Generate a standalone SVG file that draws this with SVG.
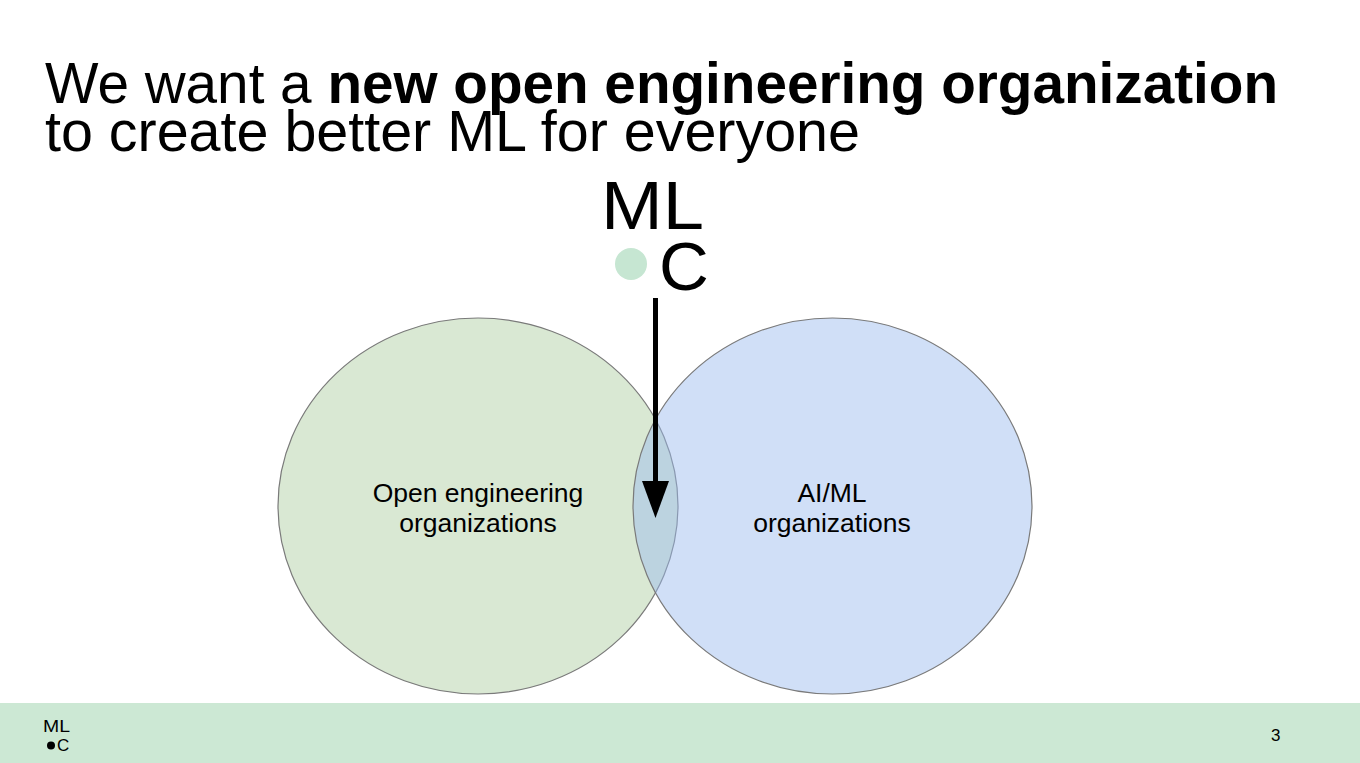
<svg xmlns="http://www.w3.org/2000/svg" width="1360" height="763" viewBox="0 0 1360 763">
<defs>
<style>
text { font-family: "Liberation Sans", Arial, Helvetica, sans-serif; fill: #000; }
.title { font-size: 57px; }
.lbl { font-size: 26.5px; text-anchor: middle; }
.venn { stroke: #7a7a7a; stroke-width: 1.2; }
</style>
<marker id="ah" markerWidth="37" markerHeight="27" refX="0" refY="13.5" orient="auto" markerUnits="userSpaceOnUse" viewBox="0 0 37 27"><path d="M0,0 L37,13.5 L0,27 Z" fill="#000"/></marker>
</defs>
<rect width="1360" height="763" fill="#ffffff"/>
<g id="title">
<text class="title" x="45" y="103" textLength="1233" lengthAdjust="spacingAndGlyphs">We want a <tspan font-weight="bold">new open engineering organization</tspan></text>
<text class="title" x="45" y="151" textLength="815" lengthAdjust="spacingAndGlyphs">to create better ML for everyone</text>
</g>
<g id="mlc-logo">
<text x="601" y="229" font-size="68" textLength="103" lengthAdjust="spacingAndGlyphs">ML</text>
<circle cx="631" cy="264" r="16" fill="#c6e6d2"/>
<text x="659" y="290" font-size="69">C</text>
</g>
<g id="open-eng">
<ellipse class="venn" cx="478" cy="506" rx="200" ry="188" fill="#d9e8d3"/>
<text class="lbl" x="478" y="502">Open engineering</text>
<text class="lbl" x="478" y="532">organizations</text>
</g>
<g id="aiml">
<ellipse class="venn" cx="832.5" cy="506" rx="199.5" ry="188" fill="#9cbbee" fill-opacity="0.47"/>
<text class="lbl" x="832" y="502">AI/ML</text>
<text class="lbl" x="832" y="532">organizations</text>
</g>
<g id="connectors">
<line x1="655.5" y1="298" x2="655.5" y2="481" stroke="#000" stroke-width="5" marker-end="url(#ah)"/>
</g>
<g id="footer">
<rect x="0" y="703" width="1360" height="60" fill="#cce8d4"/>
<text x="43" y="732" font-size="16" textLength="27" lengthAdjust="spacingAndGlyphs">ML</text>
<circle cx="51" cy="745.5" r="4" fill="#000"/>
<text x="57" y="751" font-size="17">C</text>
<text x="1271" y="741" font-size="17">3</text>
</g>
</svg>
